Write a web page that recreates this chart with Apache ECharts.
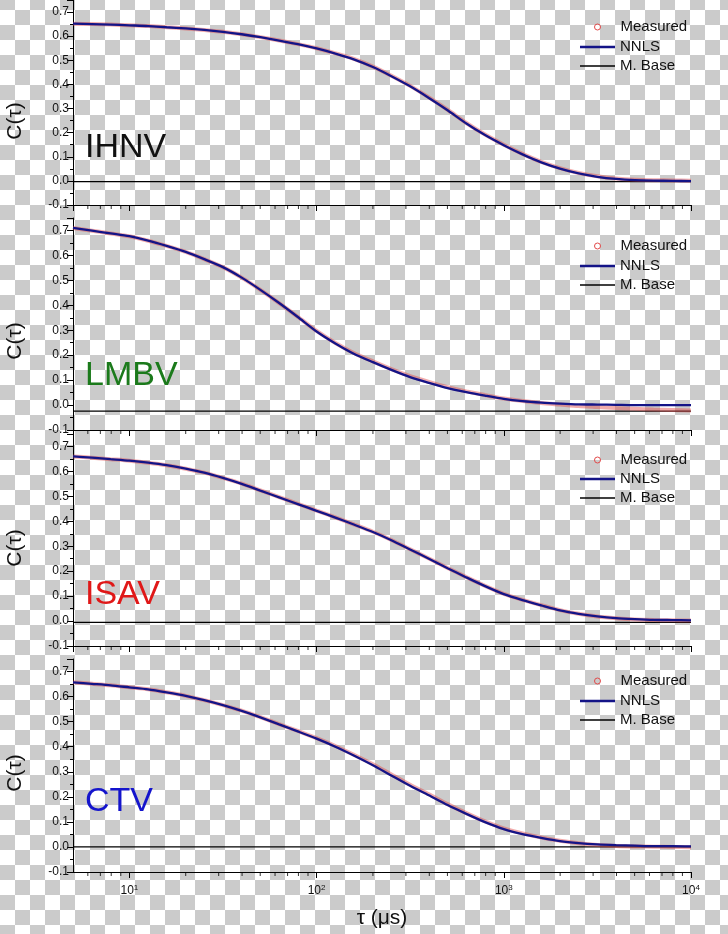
<!DOCTYPE html>
<html><head><meta charset="utf-8">
<script src="https://cdn.jsdelivr.net/npm/echarts@6/dist/echarts.min.js"></script>
<style>
html,body{margin:0;padding:0;}
body{width:728px;height:934px;overflow:hidden;background-color:#fff;
background-image:repeating-conic-gradient(#ffffff 0% 25%, #cbcbcb 0% 50%);
background-size:30px 30px;background-position:0 -5px;}
#c{width:728px;height:934px;}
</style></head><body><div id="c"></div>
<script>
// ---- data (tau sampled every 0.1 decade) ----
const tau = [5,6.31,7.94,10,12.6,15.8,20,25.1,31.6,39.8,50.1,63.1,79.4,100,126,158,200,251,316,398,501,631,794,1000,1259,1585,1995,2512,3162,3981,5012,6310,7943,10000];
const ihnvFit  = [0.652,0.650,0.648,0.645,0.642,0.637,0.632,0.626,0.618,0.608,0.596,0.582,0.567,0.549,0.528,0.504,0.472,0.434,0.392,0.344,0.293,0.238,0.190,0.148,0.110,0.077,0.051,0.031,0.017,0.008,0.003,0.001,0.000,-0.001];
const ihnvMeas = [0.652,0.650,0.648,0.645,0.642,0.637,0.632,0.626,0.618,0.608,0.596,0.582,0.567,0.550,0.529,0.506,0.474,0.436,0.394,0.346,0.295,0.240,0.192,0.150,0.112,0.079,0.053,0.033,0.019,0.010,0.005,0.003,0.002,0.001];
const lmbvFit  = [0.710,0.699,0.688,0.677,0.659,0.638,0.614,0.585,0.553,0.511,0.462,0.409,0.353,0.295,0.247,0.206,0.172,0.141,0.112,0.089,0.068,0.052,0.038,0.025,0.016,0.010,0.006,0.003,0.002,0.001,0.000,0.000,0.000,0.000];
const lmbvMeas = [0.710,0.699,0.688,0.677,0.659,0.638,0.614,0.585,0.553,0.511,0.462,0.409,0.354,0.297,0.249,0.209,0.175,0.144,0.116,0.093,0.072,0.055,0.040,0.026,0.016,0.008,0.002,-0.004,-0.008,-0.012,-0.015,-0.018,-0.020,-0.022];
const isavFit  = [0.660,0.655,0.649,0.643,0.635,0.625,0.611,0.595,0.574,0.550,0.523,0.496,0.469,0.442,0.415,0.387,0.357,0.324,0.287,0.250,0.212,0.175,0.140,0.108,0.084,0.063,0.043,0.029,0.019,0.012,0.008,0.005,0.004,0.003];
const isavMeas = [0.660,0.655,0.649,0.643,0.635,0.625,0.611,0.595,0.574,0.551,0.524,0.497,0.470,0.443,0.416,0.388,0.358,0.325,0.288,0.251,0.213,0.176,0.141,0.109,0.085,0.064,0.044,0.029,0.018,0.011,0.006,0.004,0.003,0.002];
const ctvFit   = [0.657,0.651,0.645,0.637,0.629,0.617,0.603,0.586,0.566,0.543,0.517,0.489,0.461,0.432,0.400,0.365,0.326,0.285,0.244,0.206,0.167,0.132,0.099,0.071,0.051,0.036,0.023,0.015,0.010,0.007,0.005,0.003,0.003,0.002];
const ctvMeas  = [0.657,0.651,0.645,0.637,0.629,0.617,0.603,0.586,0.566,0.544,0.518,0.490,0.463,0.434,0.403,0.368,0.330,0.289,0.248,0.210,0.171,0.135,0.102,0.074,0.054,0.038,0.025,0.015,0.008,0.004,0.002,0.001,0.000,-0.001];
const baselines = [-0.003,-0.024,-0.005,0.0];
const panelNames = ['IHNV','LMBV','ISAV','CTV'];
const minorTau = [6,7,8,9,20,30,40,50,60,70,80,90,200,300,400,500,600,700,800,900,2000,3000,4000,5000,6000,7000,8000,9000];
const legendNames = ['Measured','NNLS','M. Base'];
const yMin = -0.1, yMax = 0.75, yStep = 0.1;
const xMin = 5, xMax = 10000;

// ---- styling / layout ----
const FONT = 'Liberation Sans, Arial, sans-serif';
const panelColors = ['#111111','#1b7a1b','#e01818','#1414cc'];
const fits = [ihnvFit,lmbvFit,isavFit,ctvFit];
const meas = [ihnvMeas,lmbvMeas,isavMeas,ctvMeas];
const gridTB = [[0,205],[218,430],[434,646],[659,872]];
const labelY = [147.5,375.5,594.5,801.5];
const cTauY = [121,341,548,773];
const legendY = [[27,47,66],[246,266,285],[460,479,498],[681,701,720]];
const H = 934;
const fitColor = '#141487', measColor = '#e04848';

const grid=[], xAxis=[], yAxis=[], series=[], legend=[], graphic=[];
for (let i=0;i<4;i++){
  grid.push({left:73,right:37,top:gridTB[i][0],bottom:H-gridTB[i][1],containLabel:false,outerBoundsMode:'none'});
  xAxis.push({type:'log',logBase:10,gridIndex:i,min:xMin,max:xMax,
    axisLine:{onZero:false,lineStyle:{color:'#000',width:1}},
    axisTick:{show:true,length:6,lineStyle:{color:'#000',width:1}},
    splitLine:{show:false},
    axisLabel:{show:i===3,showMinLabel:false,margin:12,
      formatter:v=>{const e=Math.round(Math.log10(v));return '{b|10}{s|'+e+'}';},
      rich:{b:{fontSize:12,color:'#111',fontFamily:FONT,lineHeight:14},
            s:{fontSize:8,color:'#111',fontFamily:FONT,verticalAlign:'top',lineHeight:8}}},
    name:i===3?'τ (μs)':'',nameLocation:'middle',nameGap:36,
    nameTextStyle:{fontSize:21,color:'#111',fontFamily:FONT}
  });
  yAxis.push({type:'value',gridIndex:i,min:yMin,max:yMax,interval:yStep,
    axisLine:{show:true,onZero:false,lineStyle:{color:'#000',width:1}},
    axisTick:{show:true,length:6,lineStyle:{color:'#000'}},
    minorTick:{show:true,splitNumber:2,length:3,lineStyle:{color:'#000'}},
    splitLine:{show:false},minorSplitLine:{show:false},
    axisLabel:{fontSize:12,color:'#111',fontFamily:FONT,margin:4,
      formatter:v=>Math.abs(v*10-Math.round(v*10))<1e-6?v.toFixed(1):''}
  });
  series.push({name:'M. Base',type:'line',xAxisIndex:i,yAxisIndex:i,
    data:[[xMin,baselines[i]],[xMax,baselines[i]]],showSymbol:false,symbol:'none',
    lineStyle:{color:'#000',width:1.2},itemStyle:{color:'#000'},z:1,silent:true});
  series.push({name:'Measured',type:'line',xAxisIndex:i,yAxisIndex:i,
    data:tau.map((t,k)=>[t,meas[i][k]]),showSymbol:false,symbol:'emptyCircle',
    smooth:0.25,
    lineStyle:{color:'rgba(225,70,70,0.45)',width:4},itemStyle:{color:measColor},z:2,silent:true});
  series.push({name:'NNLS',type:'line',xAxisIndex:i,yAxisIndex:i,
    data:tau.map((t,k)=>[t,fits[i][k]]),showSymbol:false,symbol:'none',
    smooth:0.25,
    lineStyle:{color:fitColor,width:2.3},itemStyle:{color:fitColor},z:3,silent:true});
  series.push({type:'scatter',xAxisIndex:i,yAxisIndex:i,
    data:minorTau.map(t=>[t,yMin]),symbol:'rect',symbolSize:[1,4],symbolOffset:[0,2],
    itemStyle:{color:'#000'},clip:false,silent:true,z:5});
  const lg = (name,icon,w,h,extra,cx,cy,pad)=>Object.assign({
    left:cx,top:cy-9,padding:0,itemGap:0,itemWidth:w,itemHeight:h,selectedMode:false,
    textStyle:{fontSize:15,color:'#111',fontFamily:FONT,lineHeight:18,padding:[0,0,0,pad]},
    data:[Object.assign({name:name,icon:icon},extra)]});
  legend.push(lg(legendNames[0],'circle',6,6,{itemStyle:{color:'rgba(0,0,0,0)',borderColor:measColor,borderWidth:1}},594,legendY[i][0],15));
  legend.push(lg(legendNames[1],'rect',35,2.5,{itemStyle:{color:fitColor}},580,legendY[i][1],0));
  legend.push(lg(legendNames[2],'rect',35,1.3,{itemStyle:{color:'#000'}},580,legendY[i][2],0));
  graphic.push({type:'text',x:85,y:labelY[i],silent:true,
    style:{text:panelNames[i],font:'34px '+FONT,fill:panelColors[i],align:'left',verticalAlign:'middle'}});
  graphic.push({type:'text',x:15.5,y:cTauY[i],rotation:Math.PI/2,silent:true,
    style:{text:'C(τ)',font:'21px '+FONT,fill:'#111',align:'center',verticalAlign:'middle'}});
}
const chart = echarts.init(document.getElementById('c'),null,{renderer:'canvas'});
chart.setOption({backgroundColor:'transparent',animation:false,grid,xAxis,yAxis,series,legend,graphic});
</script></body></html>
